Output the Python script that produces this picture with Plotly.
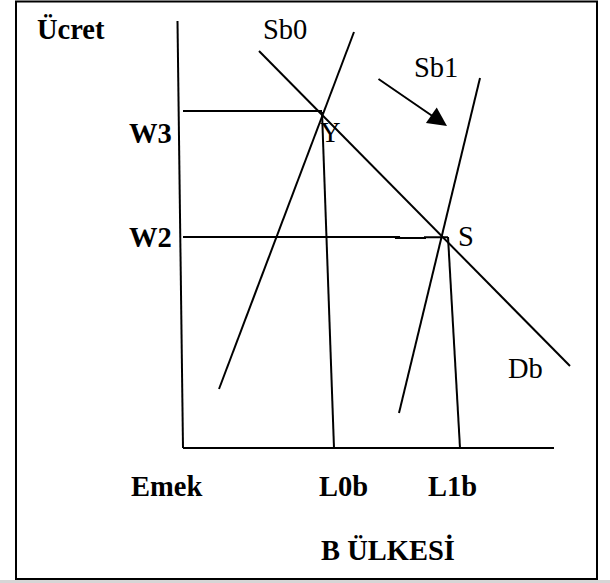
import plotly.graph_objects as go

# --- diagram values (x = labour, y = wage; origin at the axes corner) ---
w_levels = [33.7, 21.0]          # W3, W2
w_labels = ["W3", "W2"]
w_label_y = [31.5, 21.1]         # W3 sits a little below its guide line
l_levels = [15.1, 27.7]          # L0b, L1b (foot of the drop lines)
l_labels = ["L0b", "L1b"]
l_label_x = [16.0, 26.95]

sb0_x = [3.6, 17.1]
sb0_y = [5.9, 41.6]
sb1_x = [21.6, 29.7]
sb1_y = [3.5, 37.0]
db_x = [7.6, 38.7]
db_y = [39.7, 8.2]

yaxis_x = [-0.55, 0.0]
yaxis_y = [42.7, 0.0]
xaxis_x = [0.0, 37.1]
xaxis_y = [0.0, 0.0]

# equilibrium points Y and S
eq_x = [13.9, 26.5]
eq_y = [33.7, 21.1]

# W2 guide line is drawn by hand with a small jog near S
w2_x = [0.0, 21.7, 21.2, 24.2, 24.2, 26.5]
w2_y = [21.11, 21.11, 21.0, 21.0, 21.08, 21.08]

arrow_from = (19.4, 37.0)
arrow_to = (26.4, 32.2)

SERIF = "Liberation Serif, Times New Roman, serif"
LINE = dict(color="black", width=2)

fig = go.Figure()


def add_line(xs, ys, width=2):
    fig.add_trace(go.Scatter(x=xs, y=ys, mode="lines",
                             line=dict(color="black", width=width),
                             hoverinfo="skip", showlegend=False))


# axes
add_line(yaxis_x, yaxis_y)
add_line(xaxis_x, xaxis_y)

# supply and demand curves
add_line(sb0_x, sb0_y)
add_line(sb1_x, sb1_y)
add_line(db_x, db_y)

# W3 guide and L0b drop line
add_line([0.0, eq_x[0]], [w_levels[0], w_levels[0]])
add_line([eq_x[0], l_levels[0]], [eq_y[0] - 0.1, 0.0])

# W2 guide and L1b drop line
add_line(w2_x, w2_y)
add_line([eq_x[1], l_levels[1]], [eq_y[1], 0.0])


def label(text, x, y, bold=False, xanchor="center"):
    fig.add_annotation(x=x, y=y, text=f"<b>{text}</b>" if bold else text,
                       showarrow=False, xanchor=xanchor, yanchor="middle",
                       font=dict(family=SERIF, size=28.5, color="black"))


label("Ücret", -11.2, 41.9, bold=True)
label("Sb0", 10.15, 41.9)
label("Sb1", 25.25, 38.1)
label("Db", 34.25, 8.0)
label("Y", 14.75, 31.55)
label("S", 28.25, 21.2)
for txt, wy in zip(w_labels, w_label_y):
    label(txt, -0.9, wy, bold=True, xanchor="right")
label("Emek", -1.65, -3.8, bold=True)
for txt, lx in zip(l_labels, l_label_x):
    label(txt, lx, -3.8, bold=True)
label("B ÜLKESİ", 20.45, -10.2, bold=True)

# shift arrow
fig.add_annotation(x=arrow_to[0], y=arrow_to[1], ax=arrow_from[0], ay=arrow_from[1],
                   xref="x", yref="y", axref="x", ayref="y", text="",
                   showarrow=True, arrowhead=2, arrowsize=1.9, arrowwidth=2,
                   arrowcolor="black", standoff=0)

# outer frame and page edge
fig.add_shape(type="rect", xref="paper", yref="paper",
              x0=0, x1=1, y0=0, y1=3 / 583,
              line=dict(width=0), fillcolor="#d6d6d6", layer="below")
fig.add_shape(type="rect", xref="paper", yref="paper",
              x0=16 / 610, x1=597 / 610, y0=1 - 579 / 583, y1=1 - 1.5 / 583,
              line=LINE, fillcolor="rgba(0,0,0,0)")

fig.update_xaxes(range=[-18.3, 42.7], visible=False, showgrid=False,
                 zeroline=False, fixedrange=True)
fig.update_yaxes(range=[-13.5, 44.8], visible=False, showgrid=False,
                 zeroline=False, fixedrange=True)
fig.update_layout(
    width=610, height=583,
    margin=dict(l=0, r=0, t=0, b=0),
    paper_bgcolor="white", plot_bgcolor="white",
    showlegend=False,
)

# drop the browser's default body margin so the figure sits at (0, 0)
fig.write_html("out.html", config={"displayModeBar": False},
               post_script="document.body.style.margin = '0';")
